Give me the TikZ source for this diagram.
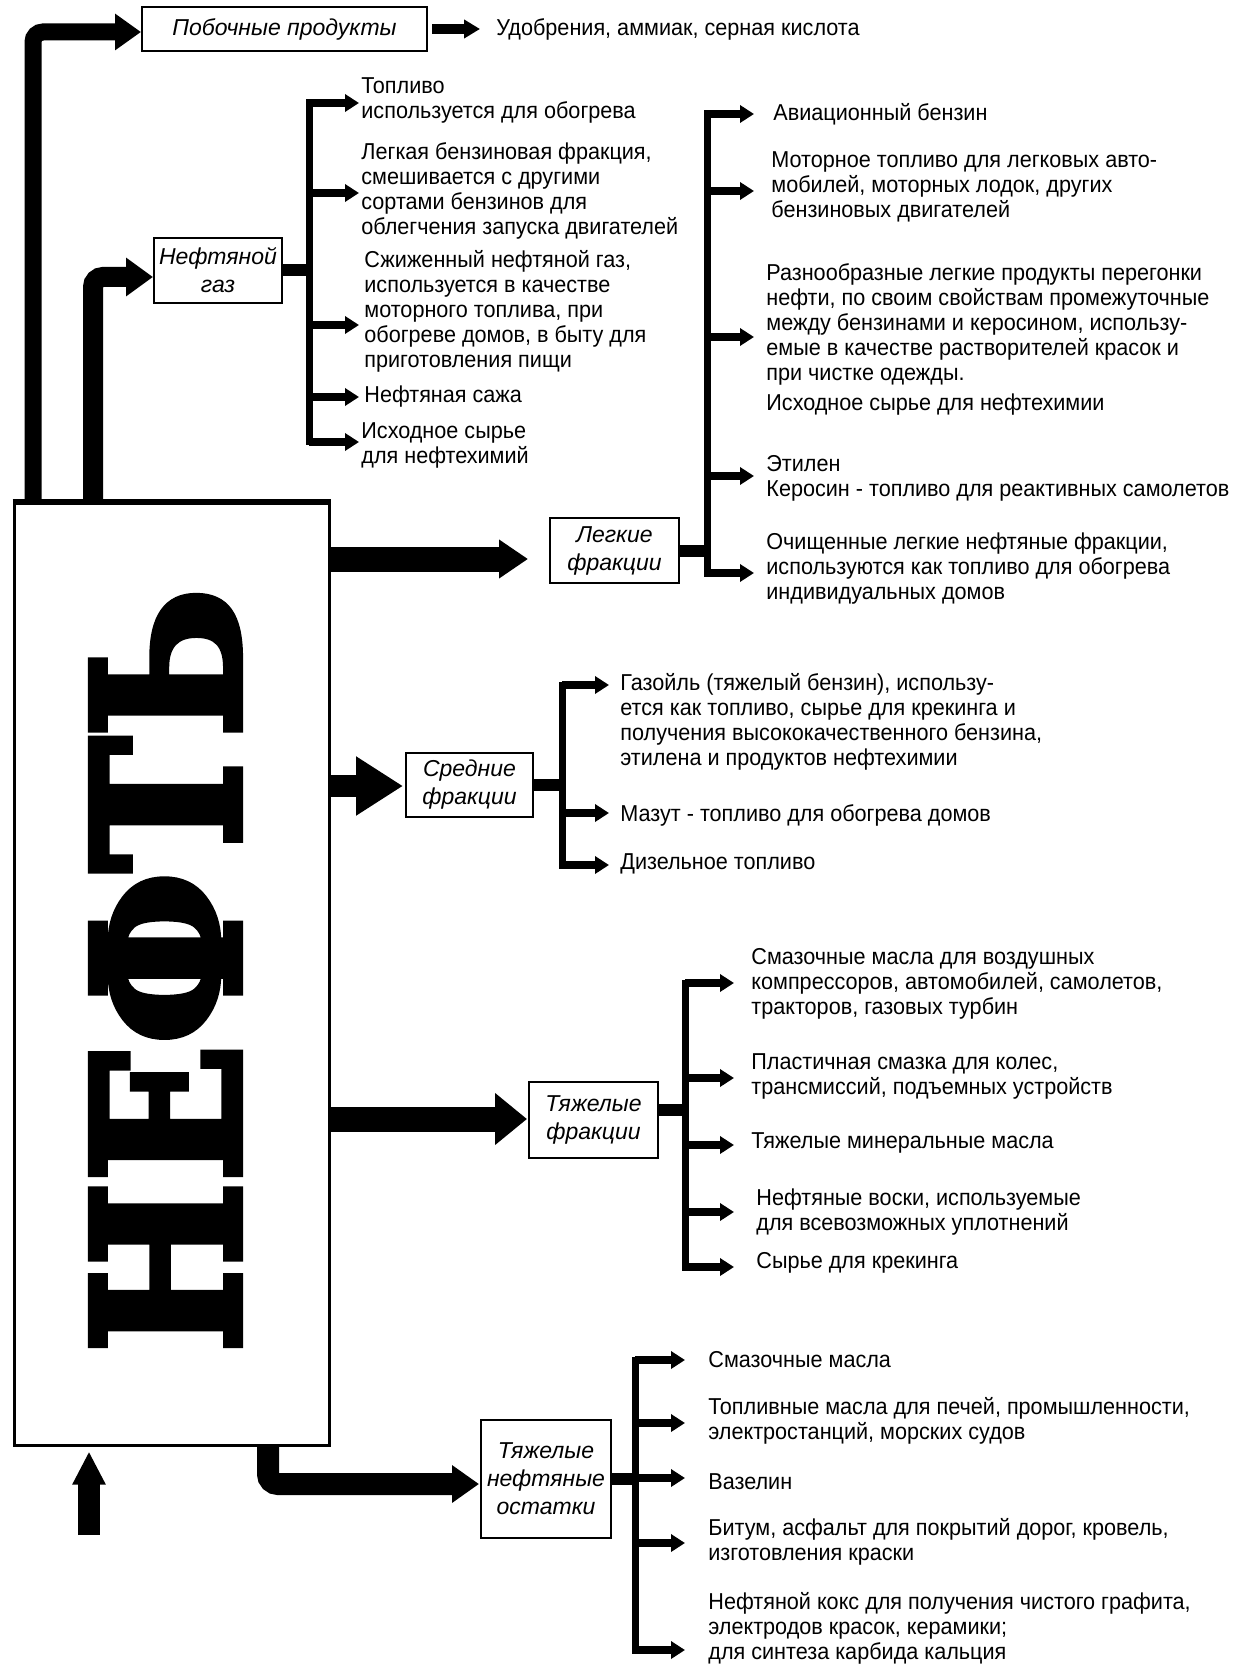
\documentclass[tikz,border=0pt]{standalone}
\usepackage{fontspec}
\setmainfont{Liberation Sans}
\newfontfamily\bodyfont{Liberation Sans}[FakeStretch=0.94]
\newfontfamily\bigfont{DejaVu Serif}[FakeBold=4]
\usetikzlibrary{arrows.meta,calc}
\begin{document}
\begin{tikzpicture}[x=0.5pt,y=-0.5pt,
  box/.style={draw, line width=1pt, fill=white, inner sep=0pt, align=center,
    font=\fontsize{11.5}{14}\selectfont\itshape},
  txt/.style={anchor=west, inner sep=0pt, align=left,
    font=\bodyfont\fontsize{11.5}{12.5}\selectfont},
  stub/.style={line width=6pt},
  bar/.style={line width=3.5pt, line cap=rect},
  branch/.style={line width=4pt, -{Triangle[length=7pt,width=8.5pt]}},
]
\useasboundingbox (0,0) rectangle (1250,1668);
\fill[white] (0,0) rectangle (1250,1668);

% boxes
\node[box, minimum width=142.5pt, minimum height=22pt] (pob) at (284.5,29) {Побочные продукты};
\node[box, minimum width=64pt, minimum height=32.5pt] (gas) at (218,270.5) {Нефтяной\\газ};
\node[box, minimum width=64.5pt, minimum height=32.5pt] (light) at (614.5,550.5) {Легкие\\фракции};
\node[box, minimum width=63.5pt, minimum height=32pt] (mid) at (469.5,785) {Средние\\фракции};
\node[box, minimum width=64.5pt, minimum height=38pt] (heavy) at (593.5,1120) {Тяжелые\\фракции};
\node[box, minimum width=65pt, minimum height=59pt] (resid) at (546,1479) {Тяжелые\\нефтяные\\остатки};

% main column
\node[draw, line width=1.5pt, minimum width=157.5pt, minimum height=471pt, inner sep=0pt] (oil) at (171.5,974) {};
\draw[line width=2.5pt] (oil.north west) -- (oil.north east);
\node[rotate=90, inner sep=0pt] (word) at (165.5,970.5)
  {\resizebox{382.5pt}{73.5pt}{\bigfont\bfseries НЕФТЬ}};

% big arrows
\coordinate (p1) at (33,32);
\draw[line width=8.5pt, rounded corners=5pt, -{Triangle[length=13pt,width=17.5pt]}]
  (oil.north -| p1) -- (p1) -- (pob.west |- p1);
\coordinate (g1) at (93,277);
\draw[line width=10pt, rounded corners=5pt, -{Triangle[length=13.5pt,width=18.5pt]}]
  (oil.north -| g1) -- (g1) -- (gas.west |- g1);
\coordinate (l1) at (0,559);
\draw[line width=12.5pt, -{Triangle[length=14.5pt,width=18.5pt]}]
  (oil.east |- l1) -- ([xshift=-10.5pt]light.west |- l1);
\coordinate (m1) at (0,786);
\draw[line width=11pt, -{Triangle[length=23.5pt,width=28pt]}]
  (oil.east |- m1) -- ([xshift=-1pt]mid.west |- m1);
\coordinate (h1) at (0,1119);
\draw[line width=12.5pt, -{Triangle[length=16pt,width=25pt]}]
  (oil.east |- h1) -- ([xshift=-0.5pt]heavy.west |- h1);
\coordinate (r1) at (268,1484);
\draw[line width=11pt, rounded corners=5pt, -{Triangle[length=13.5pt,width=18pt]}]
  (oil.south -| r1) -- (r1) -- ([xshift=-0.5pt]resid.west |- r1);
\coordinate (u0) at (89,1535);
\draw[line width=11pt, -{Triangle[length=16.5pt,width=15.5pt]}]
  (u0) -- ([yshift=-2.5pt]oil.south -| u0);

% by-products
\coordinate (bp) at (480,29);
\draw[line width=5pt, -{Triangle[length=8pt,width=9pt]}] ([xshift=2pt]pob.east) -- (bp);
\node[txt] (bptxt) at (496,29) {Удобрения, аммиак, серная кислота};

% gas bracket
\foreach \y [count=\i] in {103,193,325,397,442} {
  \coordinate (gs\i) at (309,\y); \coordinate (ge\i) at (359,\y);
  \draw[branch] (gs\i) -- (ge\i);}
\draw[bar] (gs1) -- (gs5);
\draw[stub] (gas.east) -- (gas.east -| gs1);
\node[txt] (ga1) at (361,100.5) {Топливо\\используется для обогрева};
\node[txt] (ga2) at (361,190.5) {Легкая бензиновая фракция,\\смешивается с другими\\сортами бензинов для\\облегчения запуска двигателей};
\node[txt] (ga3) at (364,311.5) {Сжиженный нефтяной газ,\\используется в качестве\\моторного топлива, при\\обогреве домов, в быту для\\приготовления пищи};
\node[txt] (ga4) at (364,397) {Нефтяная сажа};
\node[txt] (ga5) at (361,445.5) {Исходное сырье\\для нефтехимий};

% light bracket
\foreach \y [count=\i] in {114,191,337,476,573} {
  \coordinate (ls\i) at (707,\y); \coordinate (le\i) at (754,\y);
  \draw[branch] (ls\i) -- (le\i);}
\draw[bar] (ls1) -- (ls5);
\draw[stub] (light.east) -- (light.east -| ls1);
\node[txt] (la1) at (773,114) {Авиационный бензин};
\node[txt] (la2) at (771,186.5) {Моторное топливо для легковых авто-\\мобилей, моторных лодок, других\\бензиновых двигателей};
\node[txt] (la3) at (766,324.5) {Разнообразные легкие продукты перегонки\\нефти, по своим свойствам промежуточные\\между бензинами и керосином, использу-\\емые в качестве растворителей красок и\\при чистке одежды.};
\node[txt] (la4) at (766,405) {Исходное сырье для нефтехимии};
\node[txt] (la5) at (766,478.5) {Этилен\\Керосин - топливо для реактивных самолетов};
\node[txt] (la6) at (766,569) {Очищенные легкие нефтяные фракции,\\используются как топливо для обогрева\\индивидуальных домов};

% middle bracket
\foreach \y [count=\i] in {685,813,865} {
  \coordinate (ms\i) at (562,\y); \coordinate (me\i) at (609,\y);
  \draw[branch] (ms\i) -- (me\i);}
\draw[bar] (ms1) -- (ms3);
\draw[stub] (mid.east) -- (mid.east -| ms1);
\node[txt] (ma1) at (620,722) {Газойль (тяжелый бензин), использу-\\ется как топливо, сырье для крекинга и\\получения высококачественного бензина,\\этилена и продуктов нефтехимии};
\node[txt] (ma2) at (620,815) {Мазут - топливо для обогрева домов};
\node[txt] (ma3) at (620,864) {Дизельное топливо};

% heavy bracket
\foreach \y [count=\i] in {983,1078,1145,1212,1267} {
  \coordinate (hs\i) at (685,\y); \coordinate (he\i) at (734,\y);
  \draw[branch] (hs\i) -- (he\i);}
\draw[bar] (hs1) -- (hs5);
\draw[stub] ([yshift=5pt]heavy.east) -- ([yshift=5pt]heavy.east -| hs1);
\node[txt] (ha1) at (751,984) {Смазочные масла для воздушных\\компрессоров, автомобилей, самолетов,\\тракторов, газовых турбин};
\node[txt] (ha2) at (751,1076.5) {Пластичная смазка для колес,\\трансмиссий, подъемных устройств};
\node[txt] (ha3) at (751,1143) {Тяжелые минеральные масла};
\node[txt] (ha4) at (756,1212.5) {Нефтяные воски, используемые\\для всевозможных уплотнений};
\node[txt] (ha5) at (756,1263) {Сырье для крекинга};

% residue bracket
\foreach \y [count=\i] in {1360,1423,1478,1543,1650} {
  \coordinate (rs\i) at (635,\y); \coordinate (re\i) at (685,\y);
  \draw[branch] (rs\i) -- (re\i);}
\draw[bar] (rs1) -- (rs5);
\draw[stub] (resid.east) -- (resid.east -| rs1);
\node[txt] (ra1) at (708,1360) {Смазочные масла};
\node[txt] (ra2) at (708,1420.5) {Топливные масла для печей, промышленности,\\электростанций, морских судов};
\node[txt] (ra3) at (708,1482) {Вазелин};
\node[txt] (ra4) at (708,1541.5) {Битум, асфальт для покрытий дорог, кровель,\\изготовления краски};
\node[txt] (ra5) at (708,1628.5) {Нефтяной кокс для получения чистого графита,\\электродов красок, керамики;\\для синтеза карбида кальция};
\end{tikzpicture}
\end{document}
